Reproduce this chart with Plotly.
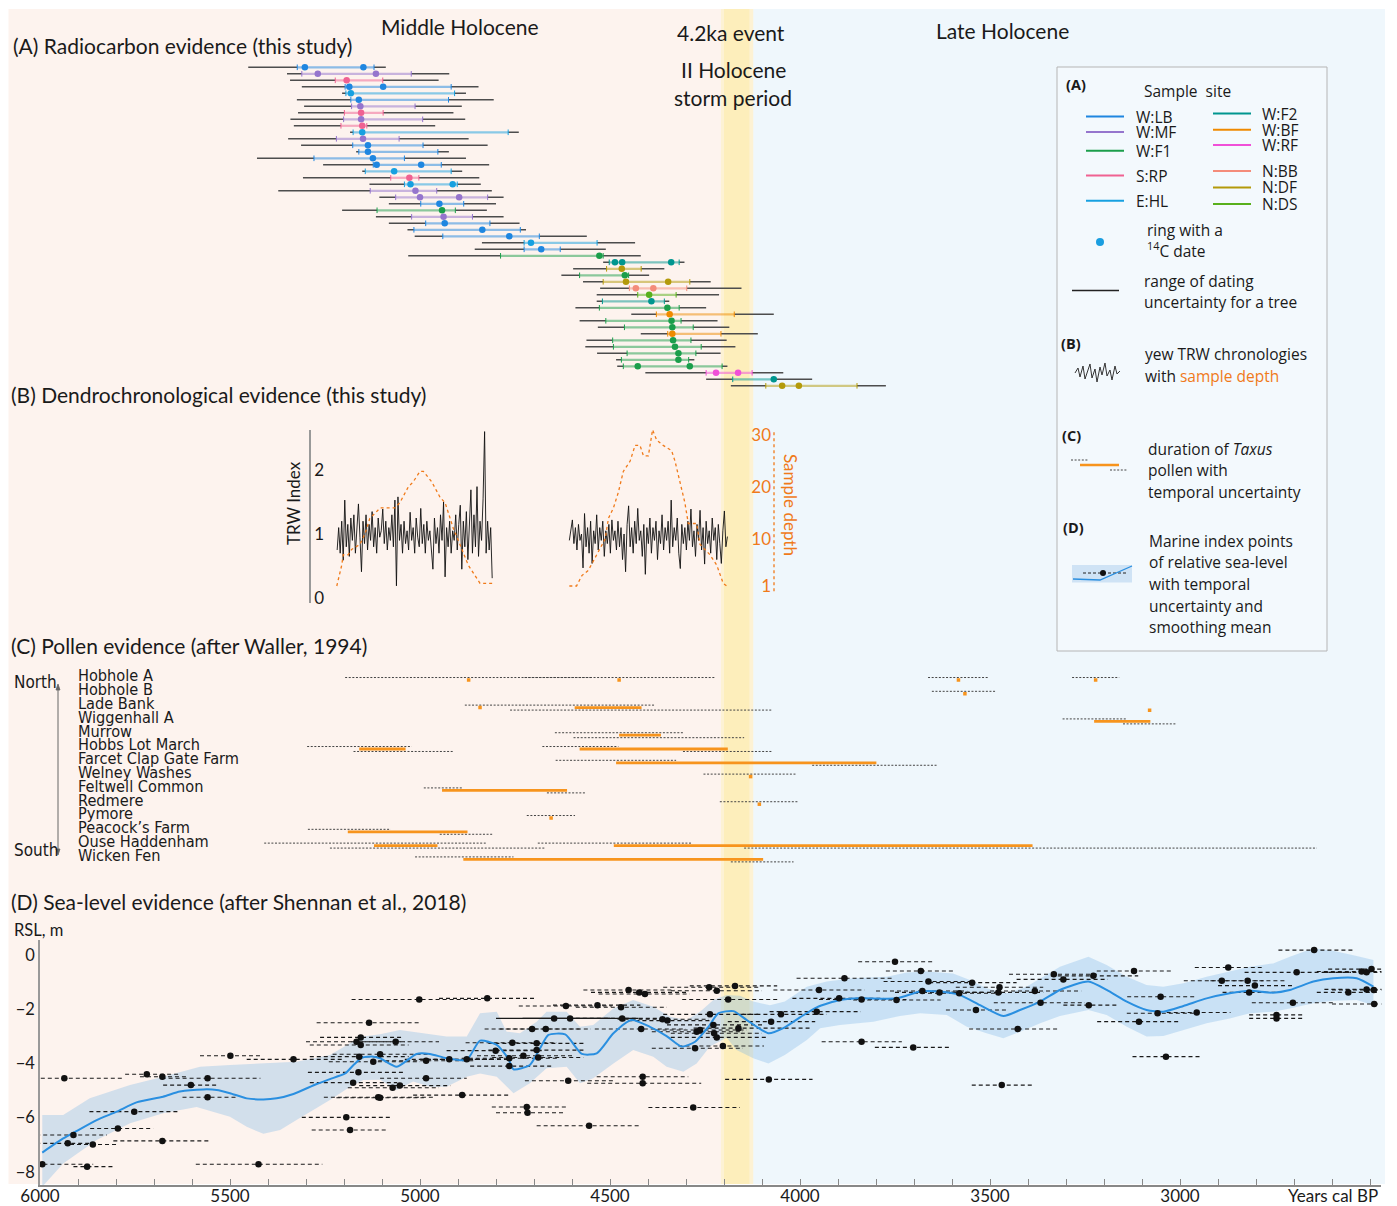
import plotly.graph_objects as go

W, H = 1397, 1206
# the page body adds an 8 px offset; positions below are given in target-image pixels
SX, OX, SY, OY = 1.0, 8.0, 1.0, 8.0
X0_PX, PX_PER_YR = 40, 0.38
X_START, X_END = 6000, 2470

def xp(T): return (max(T, OX + 0.5) - OX) / SX / W
def yp(T): return 1 - (T - OY) / SY / H
def yr2px(yr): return X0_PX + (6000 - yr) * PX_PER_YR
def yr2paper(yr): return xp(yr2px(yr))
def fs(s): return s / ((SX + SY) / 2)

FONT = "Lato, 'Noto Sans', sans-serif"
FONT_LEG = "'Open Sans', 'Noto Sans', sans-serif"
FONT_COND = "'Liberation Sans Narrow', 'DejaVu Sans Condensed', 'Roboto Condensed', Lato, sans-serif"
TXT = "#1a1a1a"
ORANGE = "#f07a1a"
TAXUS = "#f7941d"

# ---------------- (A) Radiocarbon evidence ----------------
site_colors = {"W:LB": "#1f86e0", "W:MF": "#9575cd", "W:F1": "#1b9e4b", "S:RP": "#f06292",
               "E:HL": "#17a0e0", "W:F2": "#00968f", "W:BF": "#ef8a00", "W:RF": "#f050d8",
               "N:BB": "#f48c7a", "N:DF": "#b39a0a", "N:DS": "#58b01c"}
a_black_old = [5452,5350,5342,5311,5205,5324,5305,5321,5341,5332, 5184,5347,5313,5168,5429,5255,5152,5308,5133,5373,
               5107,5082,5205,5116,5082,5033,5014,4837,4856,5031, 4518,4597,4628,4571,4526,4535,4535,4591,4444,4580,
               4532,4419,4562,4565,4534,4484,4481,4407,4247,4182]
a_black_young = [5090,4923,4951,4846,4879,4806,4890,4912,4881,4960, 4740,4872,4822,4924,4879,4818,4889,4844,4840,4811,
                 4780,4800,4824,4780,4738,4721,4561,4434,4511,4419, 4304,4357,4397,4235,4154,4213,4344,4247,4069,4217,
                 4186,4111,4193,4170,4209,4278,4191,4044,3968,3774]
a_ring_old = [5323,5311,5223,5197,5195,5182,5180,5199,5201,5208, 5176,5220,5177,5161,5279,5123,5144,5077,5041,5131,
              5064,4998,5113,5022,4985,5016,4940,4726,4726,4788, 4502,4509,4580,4518,4449,4427,4520,4528,4378,4511,
              4462,4348,4493,4491,4455,4470,4465,4247,4177,4090]
a_ring_young = [5121,5023,5098,4918,4909,4925,5013,5097,4993,5140, 4768,5055,4992,4953,5041,4944,4918,5003,4902,4956,
                4822,4885,4907,4862,4816,4736,4686,4534,4631,4518, 4318,4418,4451,4290,4298,4326,4357,4318,4173,4313,
                4281,4208,4287,4260,4274,4293,4205,4126,4069,3850]
a_site = ["W:LB","W:MF","S:RP","W:LB","E:HL","W:LB","W:MF","S:RP","W:MF","S:RP",
          "E:HL","W:MF","W:LB","W:LB","W:LB","W:LB","E:HL","S:RP","E:HL","W:MF",
          "W:MF","W:LB","W:F1","W:MF","W:LB","W:LB","W:LB","E:HL","W:LB","W:F1",
          "W:F2","N:DF","W:F1","N:DF","N:BB","N:DS","W:F2","W:F1","W:BF","W:F1",
          "W:F1","W:BF","W:F1","W:F1","W:F1","W:F1","W:F1","W:RF","W:F2","N:DF"]
a_dates = [[5303,5149],[5269,5116],[5193],[5186,5097],[5182],[5161],[5157],[5155],[5155],[5152],
           [5152],[5150],[5137],[5137],[5124],[5114,4997],[5068],[5028],[5025,4914],[5012],
           [5000,4897],[4949],[4942],[4938],[4935],[4836],[4765],[4708],[4681],[4528],
           [4487,4468,4339],[4469],[4461],[4458,4347],[4432,4386],[4397],[4391],[4349],[4343],[4338],
           [4336],[4336],[4334],[4329],[4320],[4320],[4427,4290],[4221,4163],[4069],[4047,4003]]

# ---------------- (B) Dendrochronology ----------------
trw1_start, trw2_start, trw_step = 5218, 4607, 4
trw1 = [0.75,1.1,0.7,1.2,0.59,1.53,0.8,1.15,0.65,1.25, 0.9,1.3,0.7,1.05,1.47,0.95,0.41,1.2,0.85,1.3,
        0.75,1.15,0.9,1.35,0.8,1.1,0.7,1.25,0.95,1.05, 1.39,0.85,1.2,0.75,1.1,0.9,1.3,0.8,1.53,0.19,
        1.58,0.9,1.15,0.7,1.2,0.85,1.05,0.75,1.34,0.9, 1.1,0.7,1.25,0.95,0.8,1.4,0.85,1.15,0.7,1.2,
        0.9,1.05,0.8,0.45,1.25,0.85,1.1,0.7,1.3,0.9, 1.5,0.33,1.1,0.8,1.2,0.7,1.05,0.9,1.3,0.75,
        1.15,1.45,0.45,1.2,0.8,1.35,0.6,1.1,1.69,0.7, 1.3,0.8,1.74,0.65,1.2,0.9,1.55,2.6,0.7,1.2,
        0.75,1.1,0.31]
trw2 = [0.9,1.05,1.22,0.85,1.1,0.75,1.15,0.9,1.0,0.47, 1.32,0.8,1.1,0.7,1.2,0.54,1.05,0.85,1.3,0.75,
        1.1,0.9,1.2,0.65,1.05,0.85,1.15,0.7,1.22,0.9, 1.05,0.75,1.2,0.8,1.1,0.6,1.0,0.41,1.15,1.44,
        0.8,1.1,0.7,1.2,0.85,1.4,0.9,1.05,0.65,1.15, 0.37,1.1,0.85,1.25,0.7,1.1,0.9,1.2,0.6,1.05,
        0.85,1.3,0.75,1.1,0.9,1.2,0.7,1.53,0.8,1.1, 0.9,1.25,0.7,0.46,1.15,0.85,1.1,0.75,1.2,0.9,
        1.39,0.8,1.05,0.65,1.15,0.9,1.37,0.75,1.1,0.53, 1.2,0.85,1.05,0.7,1.25,0.9,1.1,0.6,1.15,0.85,
        0.54,1.05,1.36,0.8,0.96]
trw1_years = [trw1_start - trw_step * i for i in range(len(trw1))]
trw2_years = [trw2_start - trw_step * i for i in range(len(trw2))]
dep1_yr = [5219,5206,5202,5189,5180,5158,5145,5132,5118,5105,5066,5053,5031,5018,5000,4991,4969,4947,4934,4912,4895,4873,4842,4807]
dep1 = [1,5,7,7,8,9,11,14,15,16,16,17,20,21,23,23,21,18,17,12,9,5,1.5,1.5]
dep2_yr = [4607,4588,4574,4557,4535,4513,4504,4491,4478,4465,4447,4434,4421,4412,4399,4388,4377,4360,4338,4329,4316,4303,4294,4272,4263,4237,4219,4202,4193]
dep2 = [1,1,3,4,7,10,14,16,19,23,25,28,28,26,26,31,29,28,27,25,21,17,13,13,9,7,5,1.5,1]

# ---------------- (C) Pollen ----------------
pollen_sites = ["Hobhole A","Hobhole B","Lade Bank","Wiggenhall A","Murrow","Hobbs Lot March",
                "Farcet Clap Gate Farm","Welney Washes","Feltwell Common","Redmere","Pymore",
                "Peacock\u2019s Farm","Ouse Haddenham","Wicken Fen"]
unc_early_site = [0,0,0,0,1,2,3,4,5,5,6,7,8,9,10,11,12,12,13]
unc_early_old = [5197,4725,3663,3284,3653,4882,3309,4645,5297,4678,4643,4254,4990,4211,4719,5295,5410,4690,5013]
unc_early_young = [4224,4549,3506,3160,3483,4382,3139,4308,5022,4478,4326,4008,4889,4003,4592,5077,4827,4284,4754]
unc_late_site = [2,3,4,5,5,6,8,11,12,12,13]
unc_late_old = [4763,3150,4596,5175,4308,3968,4666,4948,5237,4147,4182]
unc_late_young = [4072,3011,4147,4913,4074,3639,4564,4807,4672,2640,4017]
taxus_site = [2,3,4,5,5,6,8,11,12,12,13]
taxus_start = [4593,3226,4476,5160,4580,4484,4942,5190,5121,4490,4886]
taxus_end = [4417,3078,4366,5038,4190,3799,4613,4875,4954,3388,4097]
taxus_point_pos = [0,0,0,0,1,2,2.2,7,9,10]
taxus_point_year = [4872,4476,3583,3222,3566,4842,3080,4130,4107,4655]

# ---------------- (D) Sea level ----------------
mip_age = [5994,5876,5936,5912,5927,5861,5795,5752,5678,5719, 5678,5603,5559,5559,5499,5425,5333,5134,5156,5167,
           5156,5160,5123,5105,5162,5176,5110,5194,5184,5002, 4823,5064,4984,4923,4877,4984,5053,5072,4889,5105,
           4801,4757,4765,4765,4728,4705,4669,4647,4605,4693, 4693,4689,4719,4717,4610,4555,4616,4533,4471,4451,
           4423,4408,4468,4418,4362,4349,4414,4414,4281,4276, 4272,4263,4237,4228,4226,4219,4203,4189,4239,4219,
           4171,4162,4082,4076,4050,3956,3950,3883,3897,3838, 3838,3750,3746,3702,3682,3662,3678,3633,3581,3547,
           3537,3475,3478,3427,3469,3382,3367,3332,3307,3228, 3240,3121,3051,3059,3108,3037,2956,2873,2890,2822,
           2803,2818,2746,2746,2703,2693,2647,2557,2522,2509, 2496,2509,2490,2489]
mip_rsl = [-7.72,-7.81,-4.55,-6.64,-6.95,-6.99,-6.40,-5.78,-6.86,-4.40, -4.49,-4.80,-4.55,-5.25,-3.72,-7.72,-3.85,-2.50,-3.04,-3.20,
           -3.32,-3.75,-3.94,-3.66,-4.33,-4.71,-5.25,-5.99,-6.46,-1.64, -1.60,-3.20,-3.90,-3.85,-3.85,-4.55,-4.82,-4.90,-5.17,-5.27,
           -3.53,-3.24,-4.10,-3.81,-3.72,-2.73,-2.73,-2.34,-2.34,-3.26, -3.51,-3.78,-5.61,-5.82,-4.64,-6.30,-1.88,-1.85,-1.93,-1.29,
           -1.38,-1.44,-2.34,-2.73,-2.37,-2.42,-4.49,-4.73,-5.63,-3.44, -2.83,-2.77,-2.19,-2.58,-2.89,-3.04,-3.36,-1.64,-1.19,-1.32,
           -1.14,-2.70,-4.59,-2.46,-2.19,-2.09,-1.29,-0.86,-1.60,-1.64, -3.20,-0.25,-1.66,-3.41,-0.59,-0.98,-1.33,-1.38,-1.41,-1.02,
           -2.03,-1.19,-1.38,-2.73,-4.80,-1.33,-1.76,-0.71,-0.90,-0.77, -1.85,-0.59,-1.54,-2.15,-2.46,-3.75,-2.12,-0.46,-0.95,-0.95,
           -1.13,-1.38,-2.21,-2.34,-1.76,-0.64,0.18,-1.38,-0.61,-0.64, -0.52,-1.27,-1.29,-1.81]
mip_old = [6120,5912,6090,6010,6010,5921,5868,5870,5807,5776, 5737,5676,5680,5625,5579,5590,5456,5272,5263,5300,
           5290,5290,5240,5230,5295,5290,5253,5311,5285,5180, 4950,5180,5110,5040,5000,5105,5160,5190,5018,5220,
           4930,4880,4868,4890,4850,4830,4790,4800,4730,4820, 4820,4810,4811,4800,4724,4693,4740,4650,4590,4570,
           4550,4530,4590,4540,4480,4470,4535,4560,4399,4390, 4390,4380,4360,4350,4340,4340,4320,4310,4360,4340,
           4290,4280,4197,4190,4170,4080,4070,4009,4020,3950, 3943,3847,3860,3803,3774,3780,3800,3750,3700,3660,
           3616,3590,3600,3555,3548,3500,3490,3450,3430,3340, 3307,3219,3139,3140,3218,3125,3035,2961,2990,2920,
           2900,2888,2818,2818,2811,2830,2741,2640,2640,2620, 2610,2620,2600,2600]
mip_young = [5860,5807,5781,5824,5870,5794,5702,5634,5551,5632, 5610,5532,5420,5482,5415,5257,5202,4997,5048,5040,
             5030,5030,5000,4980,5042,5060,4966,5075,5088,4840, 4700,4950,4860,4800,4760,4877,4920,4950,4763,4990,
             4680,4640,4654,4640,4600,4580,4550,4500,4425,4570, 4570,4570,4614,4620,4487,4417,4495,4420,4350,4330,
             4300,4290,4345,4300,4240,4230,4294,4260,4158,4150, 4150,4140,4110,4100,4100,4090,4095,4060,4110,4100,
             4060,3975,3967,3960,3930,3840,3830,3755,3780,3720, 3732,3649,3630,3603,3592,3540,3560,3515,3460,3430,
             3455,3360,3360,3316,3388,3260,3250,3215,3190,3110, 3167,3022,2958,2960,3000,2945,2867,2785,2780,2720,
             2700,2737,2676,2676,2597,2550,2544,2480,2420,2400, 2390,2400,2380,2380]
mip_solid = [47, 48]
mean_age = [5994,5939,5912,5851,5798,5746,5676,5632,5570,5535,5500,5456,5412,5377,5333,5272,5237,5197,5175,5153,
            5123,5105,5061,5009,4974,4930,4877,4842,4798,4768,4754,4711,4684,4662,4618,4574,4535,4491,4443,4395,
            4351,4311,4276,4241,4215,4175,4140,4083,4044,4000,3956,3895,3842,3746,3684,3632,3579,3526,3465,3421,
            3368,3316,3241,3193,3140,3088,3044,2991,2930,2869,2816,2755,2711,2649,2597,2535,2491]
mean_rsl = [-7.29,-6.77,-6.56,-6.09,-5.78,-5.44,-5.23,-5.04,-4.96,-4.98,-5.10,-5.29,-5.33,-5.29,-5.13,-4.76,-4.58,-4.37,-4.06,-3.79,
            -3.75,-3.81,-4.12,-3.65,-3.65,-3.81,-3.87,-3.16,-3.32,-3.81,-4.22,-4.06,-3.44,-2.95,-2.93,-3.65,-3.63,-2.89,-2.40,-2.65,
            -2.99,-3.38,-3.20,-2.65,-2.15,-2.07,-2.40,-2.89,-2.70,-2.30,-1.93,-1.66,-1.60,-1.60,-1.35,-1.35,-1.48,-1.85,-2.25,-2.03,
            -1.72,-1.29,-0.98,-1.29,-1.72,-2.03,-2.09,-1.88,-1.60,-1.41,-1.32,-1.39,-1.29,-0.98,-0.86,-0.86,-1.17]
band_up_age = [5994,5939,5869,5763,5676,5579,5500,5412,5325,5237,5184,5149,5105,5053,4930,4877,4842,4798,4772,4737,
               4693,4667,4614,4579,4544,4491,4439,4386,4342,4298,4263,4228,4193,4158,4123,4079,4040,3982,3930,3860,
               3772,3719,3667,3597,3553,3509,3456,3404,3360,3316,3241,3193,3140,3088,3044,2991,2930,2869,2816,2755,
               2711,2649,2597,2535,2491]
band_up = [-5.90,-5.90,-5.29,-4.80,-4.49,-4.12,-4.06,-4.00,-3.94,-3.69,-3.26,-3.01,-2.92,-2.77,-3.01,-3.01,-2.15,-2.09,-2.83,-2.89,
           -2.46,-2.09,-2.09,-2.65,-2.58,-1.97,-1.66,-1.91,-2.28,-2.40,-2.09,-1.66,-1.48,-1.50,-1.72,-1.85,-1.72,-1.17,-0.98,-0.86,
           -0.80,-0.65,-0.61,-0.68,-0.92,-1.23,-1.41,-1.17,-0.80,-0.43,-0.06,-0.37,-0.80,-1.11,-1.17,-1.04,-0.80,-0.61,-0.43,-0.31,
           -0.06,0.25,0.16,-0.04,-0.18]
band_lo_age = [5994,5939,5851,5763,5676,5588,5500,5456,5412,5368,5325,5237,5184,5149,5105,5061,5018,4974,4930,4877,
               4842,4798,4754,4711,4667,4614,4579,4544,4491,4439,4386,4351,4307,4272,4237,4193,4167,4123,4083,4040,
               3982,3947,3895,3807,3737,3684,3614,3561,3509,3465,3421,3368,3316,3241,3193,3140,3088,3044,2991,2930,
               2869,2816,2755,2711,2649,2597,2535,2491]
band_lo = [-8.55,-7.69,-6.83,-6.21,-5.84,-5.61,-5.97,-6.34,-6.60,-6.46,-6.09,-5.35,-4.86,-4.61,-4.60,-4.98,-4.67,-4.86,-4.86,-4.49,
           -4.37,-4.49,-5.10,-4.73,-4.18,-4.12,-4.73,-4.55,-4.00,-3.51,-3.75,-4.12,-4.31,-4.00,-3.38,-3.05,-3.51,-3.81,-4.00,-3.69,
           -3.14,-2.70,-2.58,-2.46,-2.25,-2.15,-2.21,-2.65,-2.89,-3.07,-2.83,-2.52,-2.25,-2.03,-2.21,-2.65,-3.01,-2.99,-2.77,-2.52,
           -2.34,-2.15,-2.09,-1.97,-1.78,-1.69,-1.66,-1.85]

x_major = [6000, 5500, 5000, 4500, 4000, 3500, 3000]
x_major_text = ["6000", "5500", "5000", "4500", "4000", "3500", "3000"]

fig = go.Figure()

def seg_trace(x0s, x1s, ys, yaxis, color, width, dash=None, opacity=1.0):
    xs, yy = [], []
    for a, b, c in zip(x0s, x1s, ys):
        xs += [a, b, None]
        yy += [c, c, None]
    fig.add_trace(go.Scatter(x=xs, y=yy, mode="lines", xaxis="x", yaxis=yaxis, opacity=opacity,
                             line=dict(color=color, width=width, dash=dash), hoverinfo="skip", showlegend=False))

# Panel A
rows = list(range(1, len(a_site) + 1))
seg_trace(a_black_old + a_ring_young, a_ring_old + a_black_young, rows + rows, "y5", "#4d4d4d", 1.4)
for site, col in site_colors.items():
    idx = [i for i in range(len(a_site)) if a_site[i] == site]
    if not idx:
        continue
    seg_trace([a_ring_old[i] for i in idx], [a_ring_young[i] for i in idx], [rows[i] for i in idx], "y5", col, 2.2, opacity=0.5)
    fig.add_trace(go.Scatter(x=[a_ring_old[i] for i in idx] + [a_ring_young[i] for i in idx],
                             y=[rows[i] for i in idx] * 2, mode="markers", xaxis="x", yaxis="y5",
                             marker=dict(symbol="line-ns", size=4, line=dict(color=col, width=1)),
                             hoverinfo="skip", showlegend=False))
    dx, dy = [], []
    for i in idx:
        for d in a_dates[i]:
            dx.append(d); dy.append(rows[i])
    fig.add_trace(go.Scatter(x=dx, y=dy, mode="markers", xaxis="x", yaxis="y5",
                             marker=dict(color=col, size=6.5), hoverinfo="skip", showlegend=False))

# Panel B
fig.add_trace(go.Scatter(x=trw1_years, y=trw1, mode="lines", xaxis="x", yaxis="y3",
                         line=dict(color="#111111", width=0.9), hoverinfo="skip", showlegend=False))
fig.add_trace(go.Scatter(x=trw2_years, y=trw2, mode="lines", xaxis="x", yaxis="y3",
                         line=dict(color="#111111", width=0.9), hoverinfo="skip", showlegend=False))
for yrs, dep in ((dep1_yr, dep1), (dep2_yr, dep2)):
    fig.add_trace(go.Scatter(x=yrs, y=dep, mode="lines", xaxis="x", yaxis="y4",
                             line=dict(color=ORANGE, width=1.3, dash="dot"), hoverinfo="skip", showlegend=False))

# Panel C
seg_trace(unc_early_old, unc_early_young, [s - 0.18 for s in unc_early_site], "y2", "#444444", 1, dash="2px,1.6px")
seg_trace(unc_late_old, unc_late_young, [s + 0.18 for s in unc_late_site], "y2", "#444444", 1, dash="2px,1.6px")
seg_trace(taxus_start, taxus_end, taxus_site, "y2", TAXUS, 2.8)
fig.add_trace(go.Scatter(x=taxus_point_year, y=taxus_point_pos, mode="markers", xaxis="x", yaxis="y2",
                         marker=dict(symbol="square", size=3.5, color=TAXUS), hoverinfo="skip", showlegend=False))

# Panel D
fig.add_trace(go.Scatter(x=band_up_age + band_lo_age[::-1], y=band_up + band_lo[::-1], mode="lines",
                         fill="toself", fillcolor="rgba(120,180,230,0.32)", line=dict(width=0),
                         xaxis="x", yaxis="y", hoverinfo="skip", showlegend=False))
dash_idx = [i for i in range(len(mip_age)) if i not in mip_solid]
seg_trace([mip_old[i] for i in dash_idx], [mip_young[i] for i in dash_idx], [mip_rsl[i] for i in dash_idx],
          "y", "#1a1a1a", 1.1, dash="4px,3px")
seg_trace([mip_old[i] for i in mip_solid], [mip_young[i] for i in mip_solid], [mip_rsl[i] for i in mip_solid],
          "y", "#1a1a1a", 1.4)
fig.add_trace(go.Scatter(x=mean_age, y=mean_rsl, mode="lines", xaxis="x", yaxis="y",
                         line=dict(color="#2a8fe0", width=2, shape="spline", smoothing=0.6),
                         hoverinfo="skip", showlegend=False))
fig.add_trace(go.Scatter(x=mip_age, y=mip_rsl, mode="markers", xaxis="x", yaxis="y", cliponaxis=False,
                         marker=dict(color="#111111", size=6.5), hoverinfo="skip", showlegend=False))

# ---------------- shapes ----------------
shapes = []
def rect(x0, x1, y0, y1, fill, line=None, layer="below"):
    shapes.append(dict(type="rect", xref="paper", yref="paper", x0=x0, x1=x1, y0=y0, y1=y1,
                       fillcolor=fill, line=line or dict(width=0), layer=layer))
def pline(x0, y0, x1, y1, color, width=1.0, dash=None):
    shapes.append(dict(type="line", xref="paper", yref="paper", x0=xp(x0), x1=xp(x1), y0=yp(y0), y1=yp(y1),
                       line=dict(color=color, width=width, dash=dash), layer="above"))
def ppath(pts, color, width=1.0, fill=None, close=False):
    p = "M" + " L".join(f"{xp(a):.5f},{yp(b):.5f}" for a, b in pts) + (" Z" if close else "")
    shapes.append(dict(type="path", xref="paper", yref="paper", path=p, line=dict(color=color, width=width),
                       fillcolor=fill, layer="above"))

EVENT_OLD, EVENT_YOUNG = 4200, 4133
rect(xp(8), yr2paper(EVENT_OLD), yp(1184), yp(9), "#fdf3ee")
rect(yr2paper(EVENT_YOUNG), xp(1385), yp(1184), yp(9), "#eff7fc")
rect(yr2paper(EVENT_OLD + 8), yr2paper(EVENT_YOUNG - 10), yp(1184), yp(9), "#fdf2d4")
rect(yr2paper(EVENT_OLD), yr2paper(EVENT_YOUNG), yp(1184), yp(9), "#fdeebb")
rect(xp(1057), xp(1327), yp(651), yp(67), "#f3f9fd", line=dict(color="#b5b5b5", width=1))

shapes.append(dict(type="line", xref="paper", yref="y4", x0=xp(774), x1=xp(774), y0=0, y1=31,
                   line=dict(color=ORANGE, width=1.3, dash="dot"), layer="above"))

# North-South arrow
pline(58, 688, 58, 851, "#666666", 1)
ppath([(56, 690), (58, 684), (60, 690)], "#666666", 0.8, fill="#666666", close=True)
ppath([(56, 849), (58, 855), (60, 849)], "#666666", 0.8, fill="#666666", close=True)

# legend glyphs
left_sites = ["W:LB", "W:MF", "W:F1", "S:RP", "E:HL"]
left_y = [116.6, 132, 150.7, 175.6, 200.8]
right_sites = ["W:F2", "W:BF", "W:RF", "N:BB", "N:DF", "N:DS"]
right_y = [113.6, 129.7, 145, 171, 187.4, 203.9]
for s, yy in zip(left_sites, left_y):
    pline(1086, yy, 1124, yy, site_colors[s], 2)
for s, yy in zip(right_sites, right_y):
    pline(1213, yy, 1251, yy, site_colors[s], 2)
shapes.append(dict(type="circle", xref="paper", yref="paper", x0=xp(1096), x1=xp(1104), y0=yp(238), y1=yp(246),
                   fillcolor="#1a9ee0", line=dict(width=0), layer="above"))
pline(1072, 290.5, 1119, 290.5, "#222222", 1.3)
ppath([(1075,373),(1078,368),(1080,377),(1083,366),(1085,379),(1088,370),(1090,364),(1092,378),(1095,369),
       (1097,382),(1100,367),(1102,375),(1105,363),(1107,376),(1110,370),(1112,380),(1115,366),(1117,374),(1120,371)],
      "#333333", 1)
pline(1071, 460, 1089, 460, "#444444", 1, "2px,1.6px")
pline(1080, 465, 1119, 465, TAXUS, 2.5)
pline(1110, 470, 1128, 470, "#444444", 1, "2px,1.6px")
rect(xp(1072), xp(1132), yp(582.5), yp(565), "#cfe3f5", layer="above")
pline(1083, 573, 1127, 573, "#222222", 1, "3px,2px")
ppath([(1073, 579), (1100, 580), (1132, 566)], "#2a8fe0", 1.3)
shapes.append(dict(type="circle", xref="paper", yref="paper", x0=xp(1100), x1=xp(1106), y0=yp(570), y1=yp(576),
                   fillcolor="#111111", line=dict(width=0), layer="above"))

# ---------------- annotations ----------------
ann = []
def text(x, y, s, size=16, anchor="left", font=FONT, color=TXT, angle=0, yanchor="middle"):
    ann.append(dict(x=xp(x), y=yp(y), xref="paper", yref="paper", text=s, showarrow=False, xanchor=anchor,
                    yanchor=yanchor, textangle=angle, font=dict(family=font, size=fs(size), color=color)))

HS = 21
text(460, 27, "Middle Holocene", HS, "center")
text(731, 33, "4.2ka event", HS, "center")
text(733, 70, "II Holocene", HS, "center")
text(733, 97, "storm period", HS, "center")
text(1002, 30, "Late Holocene", HS, "center")
text(11, 45, "(A) Radiocarbon evidence (this study)", HS)
text(9, 395, "(B) Dendrochronological evidence (this study)", HS)
text(9, 645, "(C) Pollen evidence (after Waller, 1994)", HS)
text(9, 901, "(D) Sea-level evidence (after Shennan et al., 2018)", HS)
text(12, 930, "RSL, m", 16.5)
text(1380, 1195, "Years cal BP", 17, "right")
text(294, 503, "TRW Index", 17, "center", angle=-90)
text(791, 505, "Sample depth", 17, "center", color=ORANGE, angle=90)
text(12, 682, "North", 17, font=FONT_COND)
text(12, 850, "South", 17, font=FONT_COND)
for i, name in enumerate(pollen_sites):
    ann.append(dict(x=xp(76), y=i - 0.3, xref="paper", yref="y2", text=name, showarrow=False, xanchor="left",
                    yanchor="middle", font=dict(family=FONT_COND, size=fs(16.2), color=TXT)))

LS = 15.5
text(1064, 84, "<b>(A)</b>", 14.5, font=FONT_LEG)
text(1142, 91, "Sample  site", 15.5, font=FONT_LEG)
for s, yy in zip(left_sites, left_y):
    text(1134, yy, s, LS, font=FONT_LEG)
for s, yy in zip(right_sites, right_y):
    text(1260, yy, s, LS, font=FONT_LEG)
text(1145, 230, "ring with a", LS, font=FONT_LEG)
text(1145, 250, "<sup>14</sup>C date", LS, font=FONT_LEG)
text(1142, 281, "range of dating", LS, font=FONT_LEG)
text(1142, 302, "uncertainty for a tree", LS, font=FONT_LEG)
text(1059, 343, "<b>(B)</b>", 14.5, font=FONT_LEG)
text(1143, 354, "yew TRW chronologies", LS, font=FONT_LEG)
text(1143, 376, f"with <span style='color:{ORANGE}'>sample depth</span>", LS, font=FONT_LEG)
text(1060, 435, "<b>(C)</b>", 14.5, font=FONT_LEG)
text(1146, 449, "duration of <i>Taxus</i>", LS, font=FONT_LEG)
text(1146, 470, "pollen with", LS, font=FONT_LEG)
text(1146, 492, "temporal uncertainty", LS, font=FONT_LEG)
text(1061, 527, "<b>(D)</b>", 14.5, font=FONT_LEG)
for yy, s in zip([541, 562, 584, 606, 627],
                 ["Marine index points", "of relative sea-level", "with temporal", "uncertainty and", "smoothing mean"]):
    text(1147, yy, s, LS, font=FONT_LEG)

# ---------------- layout ----------------
D_TOP, D_BOT, RSL_PX, RSL0_PX = 940, 1185, 27.1, 955
C_TOP, C_BOT, C_ROW0, C_STEP = 668, 868, 680, 13.8
B_TOP, B_BOT, TRW0_PX, TRW_PX = 430, 603, 598, 64
DEP0_PX, DEP_PX = 591.2, 5.207
A_TOP, A_BOT = 60.8, 392.3

fig.update_layout(
    width=W, height=H, margin=dict(l=0, r=0, t=0, b=0, autoexpand=False), showlegend=False,
    paper_bgcolor="white", plot_bgcolor="rgba(0,0,0,0)",
    shapes=shapes, annotations=ann,
    xaxis=dict(domain=[yr2paper(X_START), yr2paper(X_END)], range=[X_START, X_END], anchor="y",
               showline=True, linecolor="#888888", linewidth=1.5, ticks="inside", ticklen=6, tickcolor="#888888",
               tickwidth=1.2, tickvals=x_major, ticktext=x_major_text, showgrid=False, zeroline=False,
               ticklabelstandoff=-5,
               minor=dict(tick0=6000, dtick=100, ticks="inside", ticklen=6, tickcolor="#888888", tickwidth=1.2,
                          showgrid=False),
               tickfont=dict(family=FONT, size=fs(17), color=TXT)),
    yaxis=dict(domain=[yp(D_BOT), yp(D_TOP)], range=[-(D_BOT - RSL0_PX) / RSL_PX, -(D_TOP - RSL0_PX) / RSL_PX],
               anchor="x", showline=True, linecolor="#999999", linewidth=1.5, ticks="",
               showgrid=False, zeroline=False, tickvals=[0, -2, -4, -6, -8],
               tickfont=dict(family=FONT, size=fs(16.5), color=TXT)),
    yaxis2=dict(domain=[yp(C_BOT), yp(C_TOP)], range=[(C_BOT - C_ROW0) / C_STEP, (C_TOP - C_ROW0) / C_STEP],
                anchor="x", visible=False),
    yaxis3=dict(domain=[yp(B_BOT), yp(B_TOP)], range=[(TRW0_PX - B_BOT) / TRW_PX, (TRW0_PX - B_TOP) / TRW_PX],
                anchor="free", position=xp(310), side="right", showline=True, linecolor="#999999", linewidth=1.5,
                ticks="", showgrid=False, zeroline=False, tickvals=[0, 1, 2],
                tickfont=dict(family=FONT, size=fs(17), color=TXT)),
    yaxis4=dict(overlaying="y3", range=[(DEP0_PX - B_BOT) / DEP_PX, (DEP0_PX - B_TOP) / DEP_PX],
                anchor="free", position=xp(771), side="left", showline=False, ticks="", showgrid=False,
                zeroline=False, tickvals=[1, 10, 20, 30], tickfont=dict(family=FONT, size=fs(17), color=ORANGE)),
    yaxis5=dict(domain=[yp(A_BOT), yp(A_TOP)], range=[51, 0], anchor="x", visible=False),
)

fig.write_html("out.html")
